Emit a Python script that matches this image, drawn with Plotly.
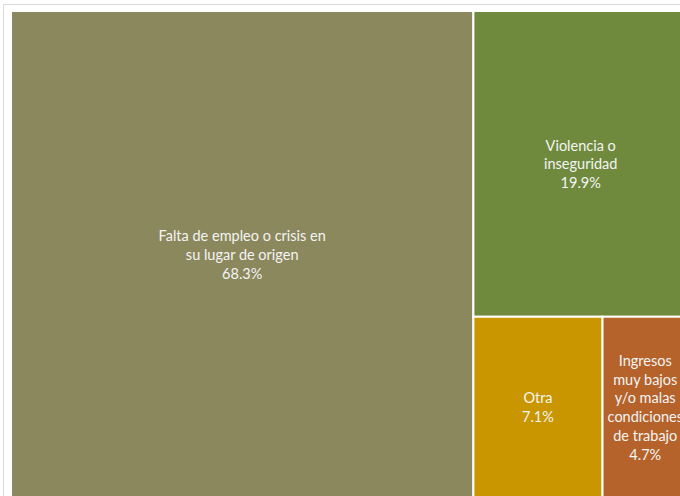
import plotly.graph_objects as go

labels = [
    "Falta de empleo o crisis en<br>su lugar de origen",
    "Violencia o<br>inseguridad",
    "Otra",
    "Ingresos<br>muy bajos<br>y/o malas<br>condiciones<br>de trabajo",
]
values = [68.3, 19.9, 7.1, 4.7]
colors = ["#8B885D", "#6F8A3D", "#C99600", "#B5632B"]
parents = ["", "", "", ""]

fig = go.Figure(go.Treemap(
    labels=labels,
    parents=parents,
    values=values,
    sort=True,
    texttemplate="%{label}<br>%{value:.1f}%",
    textposition="middle center",
    textfont=dict(family="Lato", size=14.5, color="#F4F4F4"),
    marker=dict(colors=colors, line=dict(color="white", width=2),
                pad=dict(t=0, l=0, r=0, b=0)),
    tiling=dict(packing="squarify", pad=0),
    pathbar=dict(visible=False),
    hoverinfo="skip",
))

fig.update_layout(
    width=698,
    height=508,
    margin=dict(l=11, r=10, t=11, b=10),
    paper_bgcolor="white",
    uniformtext=dict(minsize=14.5, mode="show"),
    shapes=[dict(type="rect", xref="paper", yref="paper",
                 x0=-0.0111, x1=1.2, y0=-0.2, y1=1.0134,
                 line=dict(color="#D9D9D9", width=1), fillcolor="rgba(0,0,0,0)",
                 layer="below")],
)

fig.write_html(
    "out.html",
    config={"displayModeBar": False},
    post_script="document.body.style.margin='0';document.body.style.overflow='hidden';document.documentElement.style.overflow='hidden';",
)
